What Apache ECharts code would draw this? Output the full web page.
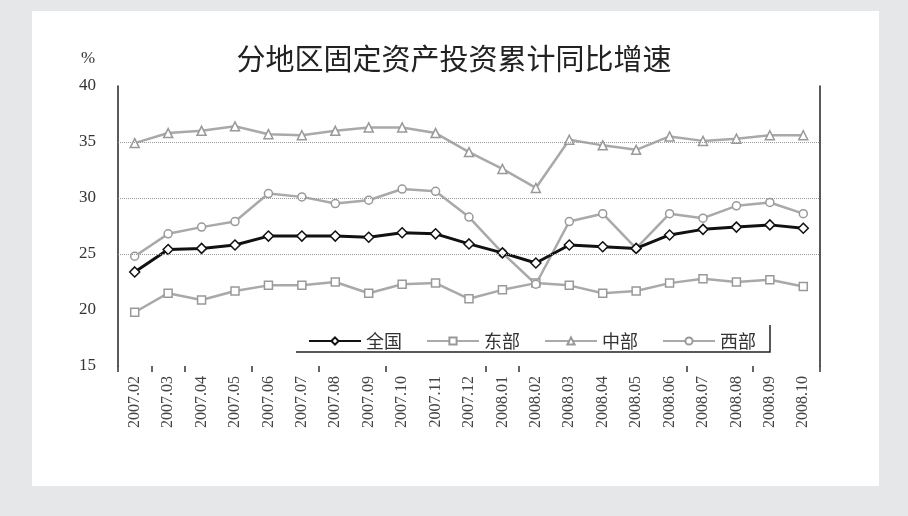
<!DOCTYPE html>
<html>
<head>
<meta charset="utf-8">
<script src="https://cdn.jsdelivr.net/npm/echarts@6/dist/echarts.min.js"></script>
<style>
html,body{margin:0;padding:0;background:#e6e7e9;}
#chart{width:908px;height:516px;}
</style>
</head>
<body>
<div id="chart"></div>
<script>
const categories = ['2007.02','2007.03','2007.04','2007.05','2007.06','2007.07','2007.08','2007.09','2007.10','2007.11','2007.12',
  '2008.01','2008.02','2008.03','2008.04','2008.05','2008.06','2008.07','2008.08','2008.09','2008.10'];
const quanguo = [23.4,25.4,25.5,25.8,26.6,26.6,26.6,26.5,26.9,26.8,25.9,25.1,24.2,25.8,25.65,25.5,26.7,27.2,27.4,27.6,27.3];
const dongbu  = [19.8,21.5,20.9,21.7,22.2,22.2,22.5,21.5,22.3,22.4,21.0,21.8,22.4,22.2,21.5,21.7,22.4,22.8,22.5,22.7,22.1];
const zhongbu = [34.9,35.8,36.0,36.4,35.7,35.6,36.0,36.3,36.3,35.8,34.1,32.6,30.9,35.2,34.7,34.3,35.5,35.1,35.3,35.6,35.6];
const xibu    = [24.8,26.8,27.4,27.9,30.4,30.1,29.5,29.8,30.8,30.6,28.3,25.1,22.3,27.9,28.6,25.5,28.6,28.2,29.3,29.6,28.6];
const yTicks = {min:15, max:40, interval:5};
const gridValues = [25,30,35];
const tickShown = [0,1,2,4,6,8,11,12,17,19];

const chart = echarts.init(document.getElementById('chart'), null, {renderer:'canvas'});
const gray = '#a9a9a9';
const grayBorder = '#999999';
function grayLine(name, data, symbol, extra){
  return Object.assign({
    name, type:'line', data, symbol, symbolSize:8,
    lineStyle:{color:gray, width:2.5},
    itemStyle:{color:'#ffffff', borderColor:grayBorder, borderWidth:1.5},
    emphasis:{disabled:true}, animation:false, z:2
  }, extra||{});
}
const option = {
  backgroundColor:'#e6e7e9',
  animation:false,
  title:{
    text:'分地区固定资产投资累计同比增速', left:'center', top:39,
    textStyle:{fontFamily:'Noto Sans CJK SC', fontSize:29, fontWeight:'normal', color:'#222'}
  },
  graphic:[
    {type:'rect', z:-10, shape:{x:32, y:11, width:847, height:475}, style:{fill:'#ffffff'}},
    {type:'text', left:81, top:50, style:{text:'%', font:'17px "Liberation Serif"', fill:'#333'}},
    {type:'polyline', z:10, shape:{points:[[296,352],[770,352],[770,325]]}, style:{stroke:'#222', lineWidth:1.5, fill:null}}
  ],
  legend:{
    data:['全国','东部','中部','西部'],
    left:303, top:327, itemWidth:52, itemHeight:9, itemGap:24,
    textStyle:{fontFamily:'Noto Sans CJK SC', fontSize:18, color:'#333'},
    selectedMode:false
  },
  grid:{left:118, right:88, top:86, bottom:150, containLabel:false},
  xAxis:{
    type:'category', data:categories, boundaryGap:true,
    axisLine:{show:false},
    axisTick:{show:true, length:6, interval:function(i){return tickShown.indexOf(i)>=0;}, lineStyle:{color:'#333', width:1.5}},
    axisLabel:{rotate:90, interval:0, margin:10, fontFamily:'Liberation Serif', fontSize:16, color:'#444'}
  },
  yAxis:[
    {type:'value', min:yTicks.min, max:yTicks.max, interval:yTicks.interval,
     axisLine:{show:true, lineStyle:{color:'#222', width:1.5}},
     axisTick:{show:false}, splitLine:{show:false},
     axisLabel:{margin:22, fontFamily:'Liberation Serif', fontSize:17, color:'#333'}},
    {type:'value', min:yTicks.min, max:yTicks.max, interval:yTicks.interval, position:'right',
     axisLine:{show:true, lineStyle:{color:'#222', width:1.5}},
     axisTick:{show:false}, splitLine:{show:false}, axisLabel:{show:false}}
  ],
  series:[
    {name:'全国', type:'line', data:quanguo, symbol:'diamond', symbolSize:10, z:4,
     lineStyle:{color:'#111', width:3}, itemStyle:{color:'#ffffff', borderColor:'#111', borderWidth:1.5},
     emphasis:{disabled:true}},
    grayLine('东部', dongbu, 'rect', {
      markLine:{silent:true, symbol:'none', label:{show:false},
        lineStyle:{color:'#9a9a9a', type:'dotted', width:1},
        data:gridValues.map(v=>({yAxis:v}))}
    }),
    grayLine('中部', zhongbu, 'triangle', {symbolSize:9}),
    grayLine('西部', xibu, 'circle', {symbolSize:8})
  ]
};
chart.setOption(option);
</script>
</body>
</html>
